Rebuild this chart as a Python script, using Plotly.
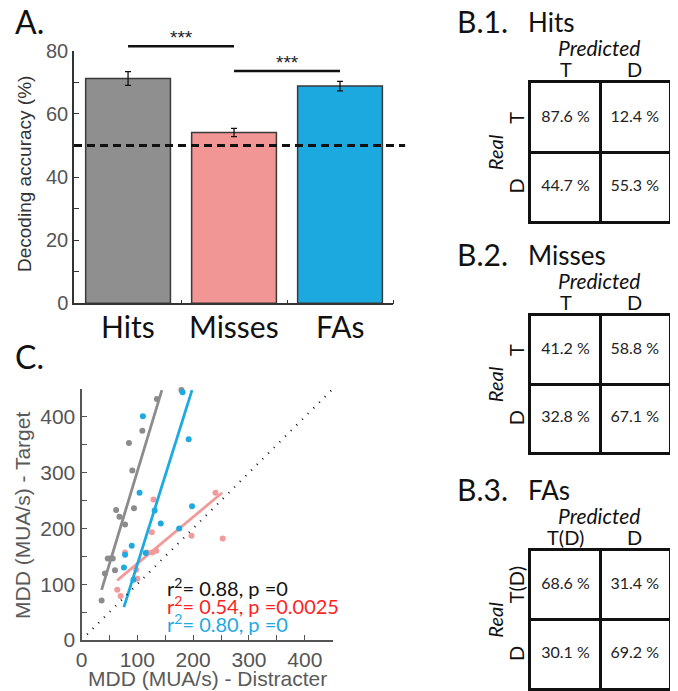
import plotly.graph_objects as go

# the page body adds an 8px offset, so the figure is sized to fill the rest of the window
OFF = 8
W, H = 670, 683

# ---------------- Panel A data ----------------
categories = ["Hits", "Misses", "FAs"]
accuracy = [71.2, 54.1, 68.8]
accuracy_err = [2.2, 1.3, 1.5]
chance_level = 50
sig_pairs = [(1, 2), (2, 3)]
sig_heights = [81.4, 73.6]
sig_labels = ["***", "***"]
bar_colors = ["#8f8f8f", "#f19595", "#1ba9df"]
a_yticks = [0, 20, 40, 60, 80]

# ---------------- Panel C data ----------------
gray_x = [36, 42, 47, 52, 56, 60, 62, 68, 78, 85, 91, 94, 109, 135, 179]
gray_y = [71, 119, 146, 146, 146, 125, 233, 221, 207, 353, 304, 236, 375, 432, 448]
pink_x = [64, 70, 78, 98, 100, 118, 127, 134, 126, 129, 197, 240, 253]
pink_y = [90, 79, 157, 126, 110, 157, 157, 160, 193, 252, 187, 264, 182]
blue_x = [93, 76, 78, 90, 115, 131, 142, 104, 110, 175, 198, 192, 181]
blue_y = [108, 130, 153, 169, 156, 232, 209, 264, 401, 200, 240, 360, 444]
gray_fit_x = [36, 144]
gray_fit_y = [90, 448]
pink_fit_x = [64, 252]
pink_fit_y = [107, 264]
blue_fit_x = [76, 198]
blue_fit_y = [59, 448]
unity_x = [10, 450]
unity_y = [10, 450]
r_squared = [0.88, 0.54, 0.80]
p_values = ["0", "0.0025", "0"]
stat_colors = ["#111111", "#ff1f1f", "#1ea9e1"]
c_ticks = [0, 100, 200, 300, 400]

# ---------------- Panel B data ----------------
cm_titles = ["Hits", "Misses", "FAs"]
cm_values = [
    [[87.6, 12.4], [44.7, 55.3]],
    [[41.2, 58.8], [32.8, 67.1]],
    [[68.6, 31.4], [30.1, 69.2]],
]
cm_labels = [["T", "D"], ["T", "D"], ["T(D)", "D"]]

MYRIAD = "Lato"
HELV = "Liberation Sans"


def pxx(p):
    return (p - OFF) / W


def pxy(p):
    return 1 - (p - OFF) / H


fig = go.Figure()

# ---- Panel A bars ----
xs = list(range(1, len(categories) + 1))
fig.add_trace(go.Bar(
    x=xs, y=accuracy, width=0.8,
    marker=dict(color=bar_colors, line=dict(color="#3a3a3a", width=1.5)),
    error_y=dict(type="data", array=accuracy_err, color="#111", thickness=1.3, width=3),
    xaxis="x", yaxis="y", showlegend=False,
))

# ---- Panel C scatter ----
for sx, sy, fx, fy, col in [
    (gray_x, gray_y, gray_fit_x, gray_fit_y, "#8c8c8c"),
    (pink_x, pink_y, pink_fit_x, pink_fit_y, "#f29a9a"),
    (blue_x, blue_y, blue_fit_x, blue_fit_y, "#1ea9e1"),
]:
    fig.add_trace(go.Scatter(x=sx, y=sy, mode="markers", marker=dict(color=col, size=6),
                             xaxis="x2", yaxis="y2", showlegend=False, cliponaxis=False))
    fig.add_trace(go.Scatter(x=fx, y=fy, mode="lines", line=dict(color=col, width=2.8),
                             xaxis="x2", yaxis="y2", showlegend=False))
fig.add_trace(go.Scatter(x=unity_x, y=unity_y, mode="lines",
                         line=dict(color="#111", width=2, dash="1px,7px"),
                         xaxis="x2", yaxis="y2", showlegend=False))

# ---- Panel B confusion matrices ----
b_xdom = [pxx(531), pxx(669.3)]
b_ydoms = [
    [pxy(221), pxy(83.3)],
    [pxy(452.3), pxy(316)],
    [pxy(688.3), pxy(551)],
]
annotations = []
shapes = []
layout_axes = {}
for k in range(3):
    ax_n = k + 3
    xa, ya = f"x{ax_n}", f"y{ax_n}"
    cx, cy, ct = [], [], []
    for r in range(2):
        for c in range(2):
            cx.append(c)
            cy.append(r)
            ct.append(f"{cm_values[k][r][c]:.1f} %")
    fig.add_trace(go.Scatter(x=cx, y=cy, text=ct, mode="text",
                             textfont=dict(family=MYRIAD, size=16, color="#222"),
                             xaxis=xa, yaxis=ya, showlegend=False, hoverinfo="skip"))
    axcommon = dict(showline=True, mirror=True, linewidth=3, linecolor="#111",
                    tickvals=[0.5], showgrid=True, gridcolor="#111", gridwidth=3,
                    showticklabels=False, ticks="", zeroline=False, fixedrange=True,
                    automargin=False)
    layout_axes[f"xaxis{ax_n}"] = dict(domain=b_xdom, range=[-0.5, 1.5], anchor=ya, **axcommon)
    layout_axes[f"yaxis{ax_n}"] = dict(domain=b_ydoms[k], range=[1.5, -0.5], anchor=xa, **axcommon)
    for c, lab in enumerate(cm_labels[k]):
        annotations.append(dict(x=c, y=1, xref=xa, yref=f"{ya} domain", text=lab,
                                showarrow=False, xanchor="center", yanchor="middle", yshift=14,
                                font=dict(family=MYRIAD, size=20, color="#111")))
    for r, lab in enumerate(cm_labels[k]):
        annotations.append(dict(x=0, y=r, xref=f"{xa} domain", yref=ya, text=lab,
                                showarrow=False, xanchor="center", yanchor="middle",
                                xshift=-15, textangle=-90,
                                font=dict(family=MYRIAD, size=20, color="#111")))
    annotations.append(dict(x=0.49, y=1, xref=f"{xa} domain", yref=f"{ya} domain",
                            text="Predicted", showarrow=False, xanchor="center",
                            yanchor="middle", yshift=36,
                            font=dict(family=MYRIAD, size=21, color="#111", style="italic")))
    annotations.append(dict(x=0, y=0.5, xref=f"{xa} domain", yref=f"{ya} domain",
                            text="Real", showarrow=False, xanchor="center", yanchor="middle",
                            xshift=-36, textangle=-90,
                            font=dict(family=MYRIAD, size=20, color="#111", style="italic")))
    annotations.append(dict(x=pxx(455), y=1, xref="paper", yref=f"{ya} domain",
                            text=f"B.{k + 1}.", showarrow=False, xanchor="left",
                            yanchor="middle", yshift=62,
                            font=dict(family=MYRIAD, size=30, color="#111")))
    annotations.append(dict(x=pxx(526), y=1, xref="paper", yref=f"{ya} domain",
                            text=cm_titles[k], showarrow=False, xanchor="left",
                            yanchor="middle", yshift=61,
                            font=dict(family=MYRIAD, size=26, color="#111")))

# ---- Panel A decorations ----
a_ymax = 80
for (x0, x1), h, lab in zip(sig_pairs, sig_heights, sig_labels):
    shapes.append(dict(type="line", xref="x", yref="y domain", x0=x0, x1=x1,
                       y0=h / a_ymax, y1=h / a_ymax, line=dict(color="#111", width=2.5)))
    annotations.append(dict(x=(x0 + x1) / 2, y=h / a_ymax, xref="x", yref="y domain",
                            text=lab, showarrow=False, xanchor="center", yanchor="bottom",
                            yshift=-4, font=dict(family=HELV, size=19, color="#222")))
shapes.append(dict(type="line", xref="x domain", yref="y", x0=0, x1=1.038,
                   y0=chance_level, y1=chance_level,
                   line=dict(color="#111", width=3, dash="8px,5px")))
for xi, lab in zip(xs, categories):
    annotations.append(dict(x=xi, y=0, xref="x", yref="y domain", text=lab,
                            showarrow=False, xanchor="center", yanchor="middle", yshift=-23,
                            font=dict(family=MYRIAD, size=30, color="#111")))
annotations.append(dict(x=pxx(25), y=pxy(174), xref="paper", yref="paper",
                        text="Decoding accuracy (%)", showarrow=False, textangle=-90,
                        xanchor="center", yanchor="middle",
                        font=dict(family=HELV, size=19, color="#333")))
annotations.append(dict(x=pxx(13), y=pxy(22), xref="paper", yref="paper", text="A.",
                        showarrow=False, xanchor="left", yanchor="middle",
                        font=dict(family=MYRIAD, size=32, color="#111")))

# ---- Panel C decorations ----
annotations.append(dict(x=pxx(13), y=pxy(356), xref="paper", yref="paper", text="C.",
                        showarrow=False, xanchor="left", yanchor="middle",
                        font=dict(family=MYRIAD, size=32, color="#111")))
annotations.append(dict(x=pxx(22), y=pxy(516), xref="paper", yref="paper",
                        text="MDD (MUA/s) - Target", showarrow=False, textangle=-90,
                        xanchor="center", yanchor="middle",
                        font=dict(family=HELV, size=21, color="#5a5a5a")))
annotations.append(dict(x=pxx(207), y=pxy(678), xref="paper", yref="paper",
                        text="MDD (MUA/s) - Distracter", showarrow=False,
                        xanchor="center", yanchor="middle",
                        font=dict(family=HELV, size=21, color="#5a5a5a")))
for i, (r2, pv, col) in enumerate(zip(r_squared, p_values, stat_colors)):
    annotations.append(dict(x=pxx(165), y=pxy(587 + 18 * i), xref="paper", yref="paper",
                            text=f"r<sup>2</sup>= {r2:.2f}, p ={pv}", showarrow=False,
                            xanchor="left", yanchor="middle",
                            font=dict(family=MYRIAD, size=20, color=col)))

fig.update_layout(
    width=W, height=H, autosize=False,
    margin=dict(l=0, r=0, t=0, b=0, pad=0, autoexpand=False),
    paper_bgcolor="white", plot_bgcolor="white",
    showlegend=False,
    xaxis=dict(domain=[pxx(74), pxx(393)], range=[0.49, 3.5], anchor="y", automargin=False,
               showline=True, linecolor="#333", linewidth=1.5,
               tickvals=xs, showticklabels=False, ticks="", showgrid=False, zeroline=False,
               minor=dict(tickvals=[1.5, 2.5, 3.5], ticks="inside", ticklen=4,
                          tickcolor="#333", tickwidth=1, showgrid=False)),
    yaxis=dict(domain=[pxy(303.3), pxy(50.7)], range=[0, a_ymax], anchor="x", automargin=False,
               showline=True, linecolor="#333", linewidth=1.5,
               tickvals=a_yticks, ticks="inside", ticklen=5, tickcolor="#333",
               tickfont=dict(family=HELV, size=20, color="#555"),
               showgrid=False, zeroline=False,
               minor=dict(dtick=10, ticks="inside", ticklen=5, tickcolor="#333",
                          showgrid=False)),
    xaxis2=dict(domain=[pxx(81.5), pxx(332.7)], range=[0, 450], anchor="y2", automargin=False,
                showline=True, linecolor="#555", linewidth=2,
                tickvals=c_ticks, ticks="inside", ticklen=5, tickcolor="#555",
                tickfont=dict(family=HELV, size=21, color="#555"),
                showgrid=False, zeroline=False,
                minor=dict(dtick=50, ticks="inside", ticklen=5, tickcolor="#555",
                           showgrid=False)),
    yaxis2=dict(domain=[pxy(640), pxy(389)], range=[0, 450], anchor="x2", automargin=False,
                showline=True, linecolor="#555", linewidth=2,
                tickvals=c_ticks, ticks="inside", ticklen=5, tickcolor="#555",
                tickfont=dict(family=HELV, size=21, color="#555"),
                showgrid=False, zeroline=False,
                minor=dict(dtick=50, ticks="inside", ticklen=5, tickcolor="#555",
                           showgrid=False)),
    annotations=annotations,
    shapes=shapes,
    **layout_axes,
)

fig.write_html("out.html")
